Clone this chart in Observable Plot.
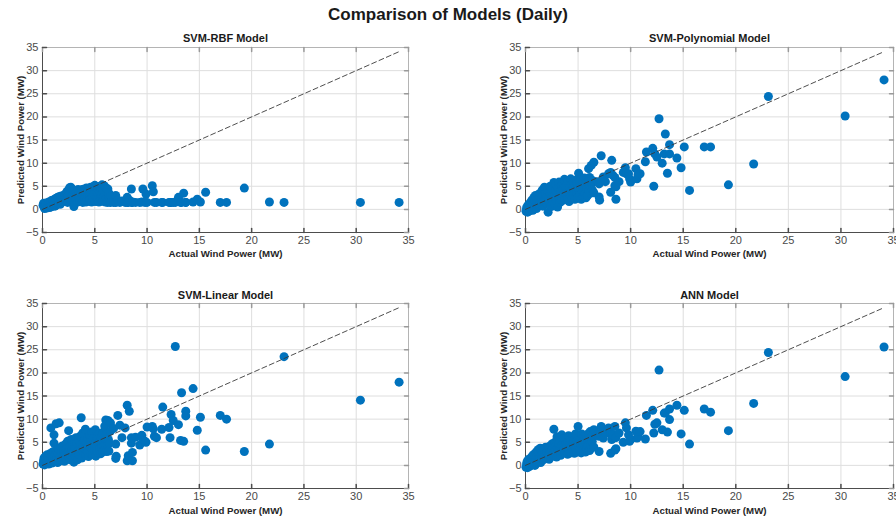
<!DOCTYPE html>
<html>
<head>
<meta charset="utf-8">
<script src="https://cdn.jsdelivr.net/npm/d3@7"></script>
<script src="https://cdn.jsdelivr.net/npm/@observablehq/plot@0.6"></script>
<style>
  html, body { margin: 0; padding: 0; background: #fff; }
  #wrap { position: relative; width: 896px; height: 520px; overflow: hidden; font-family: "Liberation Sans", Arial, sans-serif; }
  #title { position: absolute; left: 0; width: 896px; top: 5px; text-align: center; font-size: 17px; font-weight: bold; color: #1a1a1a; }
  .panel { position: absolute; }
</style>
</head>
<body>
<div id="wrap">
  <div id="title">Comparison of Models (Daily)</div>
</div>
<script>
// ---- data ----
const modelTitles = ["SVM-RBF Model", "SVM-Polynomial Model", "SVM-Linear Model", "ANN Model"];
const xLabel = "Actual Wind Power (MW)";
const yLabel = "Predicted Wind Power (MW)";
const xTicks = [0, 5, 10, 15, 20, 25, 30, 35];
const yTicks = [-5, 0, 5, 10, 15, 20, 25, 30, 35];

const actual = [
  0.05,0.1,0.15,0.2,0.25,0.3,0.35,0.4,0.45,0.5,
  0.55,0.6,0.65,0.7,0.75,0.8,0.85,0.9,0.95,1.0,
  1.05,1.1,1.1,1.15,1.2,1.25,1.3,1.35,1.4,1.45,
  1.5,1.55,1.6,1.65,1.7,1.75,1.8,1.85,1.9,2.0,
  2.05,2.1,2.15,2.2,2.25,2.3,2.35,2.4,2.45,2.5,
  2.55,2.6,2.65,2.7,2.75,2.8,2.85,2.9,2.95,3.0,
  3.05,3.1,3.15,3.2,3.3,3.35,3.4,3.45,3.5,3.6,
  3.65,3.7,3.75,3.8,3.85,3.9,4.0,4.05,4.1,4.15,
  4.2,4.3,4.35,4.4,4.45,4.5,4.55,4.6,4.65,4.7,
  4.75,4.8,4.85,4.9,5.0,5.05,5.1,5.15,5.2,5.25,
  5.3,5.35,5.4,5.45,5.5,5.55,5.6,5.65,5.7,5.75,
  5.8,5.85,5.9,5.95,6.0,6.05,6.1,6.15,6.2,6.25,
  6.3,6.35,6.4,6.5,6.5,6.8,7.0,7.0,7.05,7.2,
  7.4,7.6,7.9,8.1,8.1,8.2,8.3,8.5,8.5,8.6,
  8.6,8.9,9.3,9.5,9.6,9.8,9.9,10.0,10.5,10.6,
  10.7,10.9,11.4,11.5,12.1,12.2,12.3,12.5,12.7,13.0,
  13.2,13.3,13.5,13.7,13.7,14.4,14.8,15.1,15.6,17.0,
  17.6,19.3,21.7,23.1,30.4,34.1
];
const rbf = [
  0.9,1.3,0.5,0.2,1.1,0.6,1.4,0.3,0.9,1.2,
  0.5,1.6,0.8,0.4,1.5,1.0,1.9,0.6,1.3,2.0,
  0.8,1.7,1.2,2.2,0.7,1.5,2.4,1.0,1.9,2.6,
  1.3,2.1,1.7,2.8,1.1,2.3,2.9,1.6,2.5,3.0,
  1.8,2.7,3.2,2.0,3.5,2.4,3.9,1.5,2.9,4.2,
  3.3,4.7,2.2,4.8,3.6,4.5,2.6,3.0,1.8,0.6,
  4.0,2.8,3.4,2.3,3.8,1.6,4.3,2.7,3.6,1.7,
  4.1,2.4,3.5,4.3,1.5,3.0,4.4,2.3,3.7,1.6,
  4.6,2.9,3.9,1.8,4.5,3.2,2.1,4.8,3.5,1.6,
  4.2,2.6,4.9,3.4,5.2,1.7,4.5,2.8,4.9,3.6,
  2.2,4.6,1.6,3.9,5.0,2.5,4.3,3.1,5.3,1.8,
  4.0,2.7,5.1,3.4,1.6,4.7,2.4,3.8,1.5,4.4,
  2.1,3.5,1.6,2.9,1.5,1.5,3.0,1.5,1.6,2.0,
  1.5,1.8,1.5,2.6,1.5,1.5,2.0,4.4,1.5,1.5,
  1.6,1.5,1.5,1.6,4.4,1.5,3.3,1.5,5.1,3.8,
  1.5,1.5,1.5,1.5,1.5,1.5,1.5,1.5,1.5,2.6,
  1.5,1.5,3.5,1.5,1.5,1.6,2.2,1.6,3.7,1.5,
  1.5,4.6,1.6,1.5,1.5,1.5
];
const poly = [
  -0.4,0.2,0.6,-0.6,0.9,0.1,1.2,-0.3,0.5,1.5,
  0.0,2.0,0.7,-0.2,1.3,2.6,0.4,1.8,3.0,1.0,
  0.2,2.3,1.4,0.6,3.2,1.9,0.9,2.8,1.6,3.6,
  1.2,2.4,4.2,0.7,3.0,1.8,4.8,2.0,3.4,1.4,
  2.7,4.1,-0.6,2.2,3.8,1.6,5.0,3.0,0.6,2.5,
  4.4,1.9,3.3,5.8,2.8,1.2,4.0,5.5,2.1,3.6,
  0.5,4.7,2.6,5.9,1.5,3.9,2.9,5.2,1.9,4.4,
  3.1,6.5,2.2,4.9,3.4,5.6,2.7,6.2,3.6,1.7,
  4.7,6.6,3.0,5.4,2.4,4.1,6.0,3.2,5.0,2.2,
  6.3,4.5,3.6,5.6,2.6,7.8,4.2,5.8,3.1,6.5,
  2.2,5.2,3.8,6.1,2.8,4.8,6.8,3.4,5.6,2.5,
  6.4,4.4,3.0,5.9,8.8,4.0,6.9,5.1,3.5,9.5,
  5.7,4.2,6.2,3.6,10.2,6.0,5.5,2.7,2.0,11.6,
  7.0,6.0,7.7,3.7,8.0,10.6,7.4,6.9,5.1,2.2,
  4.9,6.0,8.0,9.0,7.7,7.7,6.6,5.9,8.8,6.6,
  7.5,7.7,10.3,12.4,13.2,5.0,12.0,11.3,19.6,10.0,
  12.0,16.3,7.8,14.0,12.0,11.1,9.0,13.5,4.1,13.5,
  13.5,5.3,9.8,24.4,20.2,28.0
];
const linear = [
  0.3,1.0,1.6,0.1,0.6,2.0,1.2,0.4,2.3,0.9,
  1.7,0.3,1.3,2.5,0.7,8.1,1.9,0.5,2.8,1.4,
  3.0,6.6,4.8,0.8,2.2,1.1,9.0,3.4,1.6,0.6,
  2.6,3.6,9.2,1.3,2.0,3.9,1.0,2.9,4.2,1.8,
  3.2,0.9,2.4,4.6,1.5,3.5,2.6,5.2,1.9,7.5,
  3.0,4.0,1.2,2.3,5.6,3.3,1.8,4.4,2.8,0.7,
  5.0,3.6,2.0,6.0,4.7,1.2,3.1,5.5,2.4,6.3,
  3.8,10.3,1.6,4.6,7.0,2.9,5.4,3.5,7.8,2.2,
  4.9,3.0,6.0,1.9,4.2,6.6,3.0,5.0,2.6,7.2,
  4.1,2.3,5.8,3.4,4.6,7.7,2.0,5.3,3.4,6.3,
  2.8,4.4,6.9,3.6,5.2,2.5,6.0,3.8,5.6,2.9,
  7.2,4.2,3.2,8.5,5.8,9.8,6.6,3.0,4.4,9.7,
  5.6,3.1,4.8,7.4,9.2,8.0,4.6,1.5,2.0,10.8,
  8.7,6.0,8.1,1.0,13.0,2.1,11.7,4.8,6.0,2.8,
  1.0,6.1,4.4,6.5,5.5,5.2,5.0,8.3,8.4,7.9,
  6.3,6.0,7.8,12.6,8.2,6.0,11.0,9.7,25.7,8.8,
  5.4,15.7,5.2,11.7,10.7,16.6,7.6,10.4,3.3,10.8,
  10.0,3.0,4.6,23.5,14.1,18.0
];
const ann = [
  -0.4,0.3,0.8,-0.5,1.2,0.1,0.6,-0.2,1.5,0.4,
  1.0,1.9,0.2,1.3,2.3,0.7,1.7,0.0,2.7,1.1,
  0.5,3.0,2.0,1.4,3.4,0.9,2.5,1.8,3.7,0.6,
  2.2,1.5,3.2,2.8,1.2,3.6,2.4,1.9,3.9,1.6,
  2.9,3.5,2.0,4.0,1.3,3.3,2.6,4.3,1.9,3.0,
  4.7,2.3,3.7,7.8,2.8,5.0,4.1,3.1,1.8,6.2,
  3.6,2.5,4.6,3.2,5.4,2.2,4.2,6.6,3.0,4.8,
  3.5,5.8,2.8,4.4,5.9,3.9,2.4,5.2,6.4,3.4,
  4.5,2.7,5.6,3.9,6.0,4.8,3.0,5.4,2.6,4.2,
  6.8,3.5,5.1,2.9,8.4,4.0,6.0,3.3,5.5,4.6,
  2.7,6.8,3.8,5.0,3.1,6.2,4.4,5.8,2.9,4.9,
  6.4,3.6,5.3,4.2,6.9,5.6,3.2,7.3,4.5,6.0,
  3.8,5.2,6.5,4.0,7.7,6.5,3.0,6.3,6.8,8.4,
  5.9,7.0,8.1,2.6,6.9,5.6,6.6,8.4,3.3,3.6,
  6.0,7.0,5.0,9.2,8.1,6.6,5.2,5.6,7.4,5.9,
  6.2,7.3,5.7,10.8,11.9,7.0,8.9,9.2,20.6,7.7,
  11.3,11.3,7.2,12.2,9.9,13.0,6.8,11.9,4.6,12.2,
  11.5,7.5,13.4,24.4,19.2,25.6
];

// ---- layout of the four panels ----
const predictions = [rbf, poly, linear, ann];
const panels = [
  {left: 0,   top: 30,  height: 230, marginLeft: 42, marginRight: 40, marginTop: 17, titleDy: -9, xLabelDy: 21},
  {left: 448, top: 30,  height: 230, marginLeft: 77, marginRight: 3,  marginTop: 17, titleDy: -9, xLabelDy: 21},
  {left: 0,   top: 280, height: 240, marginLeft: 42, marginRight: 40, marginTop: 23, titleDy: -8, xLabelDy: 22},
  {left: 448, top: 280, height: 240, marginLeft: 77, marginRight: 3,  marginTop: 23, titleDy: -8, xLabelDy: 22}
];

const tickUp = {draw(ctx, l) { ctx.moveTo(0, 0); ctx.lineTo(0, -l); }};
const blue = "#0072BD";
const diag = [0, d3.max(actual)];
const wrap = document.getElementById("wrap");

panels.forEach((p, k) => {
  const pred = predictions[k];
  const pts = actual.map((a, i) => ({a, p: pred[i]}));
  const chart = Plot.plot({
    width: 448,
    height: p.height,
    marginLeft: p.marginLeft,
    marginRight: p.marginRight,
    marginTop: p.marginTop,
    marginBottom: p.height - p.marginTop - 185,
    style: {fontFamily: "'Liberation Sans', Arial, sans-serif", fontSize: "11px", color: "#4a4a4a", background: "transparent", overflow: "visible"},
    x: {domain: [0, 35]},
    y: {domain: [-5, 35]},
    marks: [
      Plot.gridX(xTicks, {stroke: "#dedede", strokeOpacity: 1}),
      Plot.gridY(yTicks, {stroke: "#dedede", strokeOpacity: 1}),
      Plot.frame({stroke: "#b4b4b4"}),
      Plot.ruleX([0], {stroke: "#4d4d4d"}),
      Plot.ruleY([-5], {stroke: "#4d4d4d"}),
      // inward ticks on all four sides
      Plot.vector(xTicks, {x: d => d, frameAnchor: "bottom", length: 4, anchor: "start", rotate: 0, shape: tickUp, stroke: "#4d4d4d"}),
      Plot.vector(xTicks, {x: d => d, frameAnchor: "top", length: 4, anchor: "start", rotate: 180, shape: tickUp, stroke: "#9a9a9a"}),
      Plot.vector(yTicks, {y: d => d, frameAnchor: "left", length: 4, anchor: "start", rotate: 90, shape: tickUp, stroke: "#4d4d4d"}),
      Plot.vector(yTicks, {y: d => d, frameAnchor: "right", length: 4, anchor: "start", rotate: -90, shape: tickUp, stroke: "#9a9a9a"}),
      Plot.axisX(xTicks, {tickSize: 0, tickPadding: 4, label: null, fill: "#4a4a4a"}),
      Plot.axisY(yTicks, {tickSize: 0, tickPadding: 4, label: null, fill: "#4a4a4a"}),
      Plot.dot(pts, {x: "a", y: "p", r: 4.5, fill: blue, stroke: null}),
      Plot.line(diag, {x: d => d, y: d => d, stroke: "#3a3a3a", strokeWidth: 0.9, strokeDasharray: "5,3"}),
      Plot.text([modelTitles[k]], {frameAnchor: "top", dy: p.titleDy, lineAnchor: "middle", textAnchor: "middle", fontWeight: "bold", fontSize: 11, fill: "#1a1a1a"}),
      Plot.text([xLabel], {frameAnchor: "bottom", dy: p.xLabelDy, lineAnchor: "middle", textAnchor: "middle", fontWeight: "bold", fontSize: 9.7, fill: "#262626"}),
      Plot.text([yLabel], {frameAnchor: "left", dx: -22, rotate: -90, lineAnchor: "middle", textAnchor: "middle", fontWeight: "bold", fontSize: 9.7, fill: "#262626"})
    ]
  });
  const div = document.createElement("div");
  div.className = "panel";
  div.style.left = p.left + "px";
  div.style.top = p.top + "px";
  div.appendChild(chart);
  wrap.appendChild(div);
});
</script>
</body>
</html>
